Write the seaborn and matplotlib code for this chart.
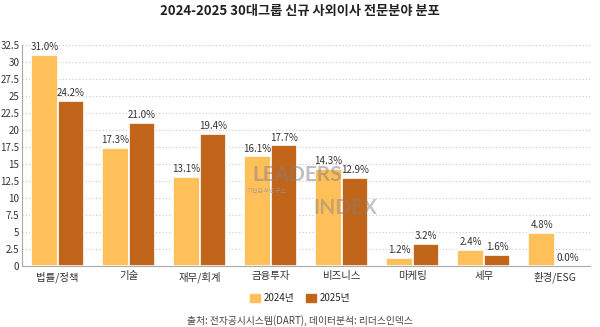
import matplotlib
matplotlib.use("Agg")
import matplotlib.pyplot as plt
import seaborn as sns
import pandas as pd

categories = ["법률/정책", "기술", "재무/회계", "금융투자", "비즈니스", "마케팅", "세무", "환경/ESG"]
share_2024 = [31.0, 17.3, 13.1, 16.1, 14.3, 1.2, 2.4, 4.8]
share_2025 = [24.2, 21.0, 19.4, 17.7, 12.9, 3.2, 1.6, 0.0]
years = ["2024년", "2025년"]
yticks = [0, 2.5, 5, 7.5, 10, 12.5, 15, 17.5, 20, 22.5, 25, 27.5, 30, 32.5]

df = pd.DataFrame({
    "분야": categories * 2,
    "연도": [years[0]] * len(categories) + [years[1]] * len(categories),
    "비율": share_2024 + share_2025,
})

sns.set_theme(style="white")
plt.rcParams["font.family"] = ["Noto Sans CJK KR", "DejaVu Sans"]

palette = {"2024년": "#FFC05A", "2025년": "#C1651A"}

fig = plt.figure(figsize=(6.0, 3.27), dpi=100)
ax = fig.add_axes([0.037, 0.187, 0.947, 0.676])

sns.barplot(data=df, x="분야", y="비율", hue="연도", palette=palette, saturation=1,
            width=0.75, edgecolor="white", linewidth=1.2, ax=ax, legend=False)

ax.set_ylim(0, 32.5)
ax.set_xlim(-0.5, len(categories) - 0.5)
ax.set_yticks(yticks)
ax.set_yticklabels([f"{t:g}" for t in yticks], fontsize=7, color="#333333")
ax.tick_params(axis="x", labelsize=7.5, colors="#333333", length=0, pad=4)
ax.tick_params(axis="y", length=0, pad=2)
ax.set_xlabel("")
ax.set_ylabel("")
ax.yaxis.grid(True, linestyle=(0, (1, 2)), color="#C8C8C8", linewidth=0.8)
ax.set_axisbelow(True)
for side in ["top", "right"]:
    ax.spines[side].set_visible(False)
for side in ["left", "bottom"]:
    ax.spines[side].set_color("#AAAAAA")
    ax.spines[side].set_linewidth(0.8)

for container in ax.containers:
    ax.bar_label(container, fmt="%.1f%%", fontsize=7, color="#333333", padding=2)

# watermark logo
fig.text(0.495, 0.465, "LEADERS", fontsize=15, fontweight="bold", color="#808080",
         alpha=0.5, ha="center", va="center", family=["Lato", "DejaVu Sans"])
fig.text(0.575, 0.365, "INDEX", fontsize=15, fontweight="bold", color="#808080",
         alpha=0.45, ha="center", va="center", family=["Lato", "DejaVu Sans"])
fig.text(0.445, 0.415, "기업분석연구소", fontsize=4.5, color="#999999", alpha=0.7,
         ha="center", va="center")

fig.text(0.5, 0.965, "2024-2025 30대그룹 신규 사외이사 전문분야 분포", ha="center",
         va="center", fontsize=9.5, fontweight="bold", color="#222222")

# legend
handles = [plt.Rectangle((0, 0), 1, 1, color=palette[y]) for y in years]
fig.legend(handles, years, loc="center", bbox_to_anchor=(0.5, 0.088), ncol=2,
           frameon=False, fontsize=7, handlelength=1.0, handleheight=1.0,
           handletextpad=0.4, columnspacing=1.2)

fig.text(0.5, 0.02, "출처: 전자공시시스템(DART), 데이터분석: 리더스인덱스", ha="center",
         va="center", fontsize=7, color="#444444")

fig.savefig("out.png", dpi=100)
